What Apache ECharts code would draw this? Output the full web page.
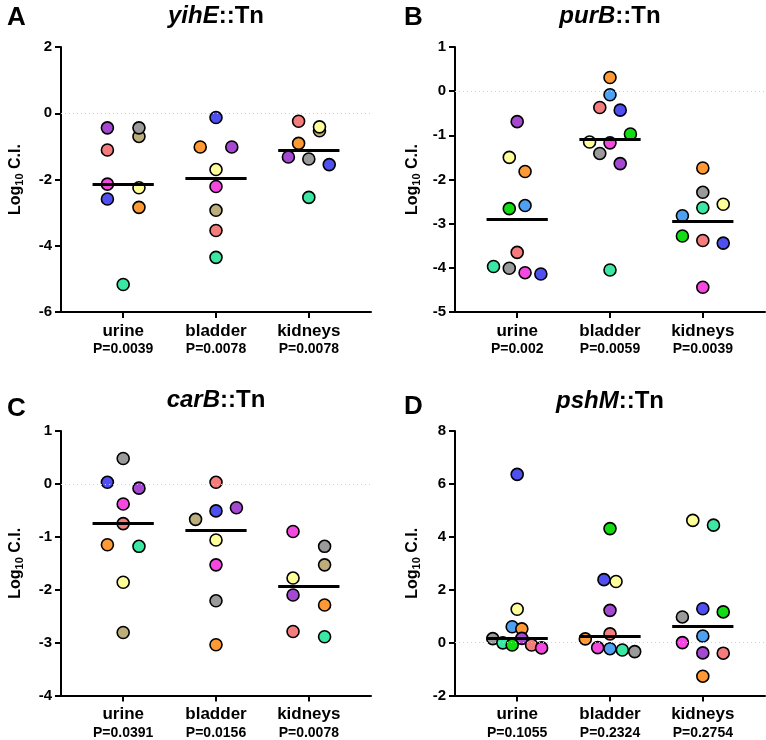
<!DOCTYPE html>
<html><head><meta charset="utf-8">
<script src="https://cdn.jsdelivr.net/npm/echarts@6/dist/echarts.min.js"></script>
<style>html,body{margin:0;padding:0;background:#fff}#c{width:766px;height:740px}</style>
</head><body><div id="c"></div>
<script>
// ---------- DATA ----------
const groups = ['urine', 'bladder', 'kidneys'];
const genes = ['yihE', 'purB', 'carB', 'pshM'];
const letters = ['A', 'B', 'C', 'D'];

// mouse ids: P purple, S salmon, M magenta, B blue, G grey, T tan, Y yellow, O orange, N mint, E green, L light blue
const yihE_ids = [['P','S','M','B','T','G','Y','O','N'], ['B','O','P','Y','M','T','S','N'], ['S','T','Y','O','P','G','B','N']];
const yihE_vals = [[-0.44,-1.11,-2.14,-2.59,-0.70,-0.44,-2.25,-2.84,-5.17], [-0.13,-1.02,-1.02,-1.70,-2.21,-2.93,-3.54,-4.35], [-0.24,-0.53,-0.41,-0.91,-1.32,-1.38,-1.55,-2.54]];
const yihE_jit = [[-0.17,-0.17,-0.17,-0.17,0.17,0.17,0.17,0.17,0], [0,-0.17,0.17,0,0,0,0,0], [-0.11,0.115,0.115,-0.11,-0.22,0,0.22,0]];
const yihE_med = [-2.14, -1.95, -1.11];
const yihE_p = ['0.0039', '0.0078', '0.0078'];

const purB_ids = [['P','Y','O','L','E','S','N','G','M','B'], ['O','L','S','B','E','Y','M','G','P','N'], ['O','G','Y','N','L','E','S','B','M']];
const purB_vals = [[-0.69,-1.50,-1.82,-2.59,-2.66,-3.65,-3.97,-4.01,-4.11,-4.14], [0.31,-0.08,-0.37,-0.43,-0.97,-1.15,-1.17,-1.41,-1.64,-4.05], [-1.74,-2.29,-2.56,-2.64,-2.82,-3.28,-3.38,-3.44,-4.44]];
const purB_jit = [[0,-0.085,0.085,0.085,-0.085,0,-0.255,-0.085,0.085,0.255], [0,0,-0.11,0.11,0.22,-0.22,0,-0.11,0.11,0], [0,0,0.22,0,-0.22,-0.22,0,0.22,0]];
const purB_med = [-2.91, -1.09, -2.95];
const purB_p = ['0.002', '0.0059', '0.0039'];

const carB_ids = [['G','B','P','M','S','O','N','Y','T'], ['S','P','B','T','Y','M','G','O'], ['M','G','T','Y','P','O','S','N']];
const carB_vals = [[0.48,0.03,-0.08,-0.38,-0.75,-1.15,-1.18,-1.86,-2.81], [0.03,-0.45,-0.51,-0.67,-1.06,-1.53,-2.21,-3.04], [-0.90,-1.18,-1.53,-1.78,-2.10,-2.29,-2.79,-2.89]];
const carB_jit = [[0,-0.17,0.17,0,0,-0.17,0.17,0,0], [0,0.22,0,-0.22,0,0,0,0], [-0.17,0.17,0.17,-0.17,-0.17,0.17,-0.17,0.17]];
const carB_med = [-0.75, -0.87, -1.94];
const carB_p = ['0.0391', '0.0156', '0.0078'];

const pshM_ids = [['B','Y','L','O','G','P','N','E','S','M'], ['E','B','Y','P','S','O','M','L','N','G'], ['Y','N','B','E','G','L','M','P','S','O']];
const pshM_vals = [[6.36,1.26,0.60,0.52,0.15,0.16,-0.01,-0.09,-0.09,-0.20], [4.31,2.38,2.31,1.22,0.33,0.14,-0.19,-0.23,-0.28,-0.34], [4.62,4.44,1.28,1.16,0.97,0.25,0.00,-0.39,-0.40,-1.27]];
const pshM_jit = [[0,0,-0.054,0.05,-0.263,0.05,-0.155,-0.054,0.155,0.263], [0,-0.065,0.065,0,0,-0.266,-0.133,0,0.133,0.266], [-0.108,0.115,0,0.22,-0.22,0,-0.22,0,0.22,0]];
const pshM_med = [0.15, 0.24, 0.60];
const pshM_p = ['0.1055', '0.2324', '0.2754'];

const yTicks = [[-6, 2, 2], [-5, 1, 1], [-4, 1, 1], [-2, 8, 2]]; // min, max, interval

// ---------- STYLE ----------
const palette = {
  P: '#a548d2', S: '#f47c7c', M: '#f548e0', B: '#4f50ef', G: '#9a9a9a', T: '#bcae7a',
  Y: '#ffff99', O: '#ff9933', N: '#3ae8a4', E: '#12dc12', L: '#4ea0f2'
};
const FONT = '"Liberation Sans", Arial, sans-serif';
const panels = [
  {ids: yihE_ids, vals: yihE_vals, jit: yihE_jit, med: yihE_med, p: yihE_p},
  {ids: purB_ids, vals: purB_vals, jit: purB_jit, med: purB_med, p: purB_p},
  {ids: carB_ids, vals: carB_vals, jit: carB_jit, med: carB_med, p: carB_p},
  {ids: pshM_ids, vals: pshM_vals, jit: pshM_jit, med: pshM_med, p: pshM_p}
];
const gridPos = [
  {left: 61, top: 47, width: 310, height: 265},
  {left: 455, top: 47, width: 310, height: 265},
  {left: 61, top: 431, width: 310, height: 265},
  {left: 455, top: 431, width: 310, height: 265}
];
const letterPos = [{left: 2, top: 0}, {left: 399, top: 0}, {left: 2, top: 391}, {left: 399, top: 389}];
const titleX = [211, 605, 211, 605];
const titleTop = [-1, -1, 383, 384];

const grid = [], xAxis = [], yAxis = [], series = [], title = [];
panels.forEach((pn, i) => {
  grid.push(gridPos[i]);
  title.push({text: letters[i], left: letterPos[i].left, top: letterPos[i].top,
    textStyle: {fontSize: 26, fontWeight: 'bold', color: '#000', fontFamily: FONT}});
  title.push({text: '{it|' + genes[i] + '}{n|::Tn}', left: titleX[i], top: titleTop[i], textAlign: 'center',
    textStyle: {rich: {
      it: {fontSize: 24, fontWeight: 'bold', fontStyle: 'italic', color: '#000', fontFamily: FONT},
      n: {fontSize: 24, fontWeight: 'bold', color: '#000', fontFamily: FONT}
    }}});
  xAxis.push({
    gridIndex: i, type: 'value', min: 0.33, max: 3.67,
    splitLine: {show: false},
    axisLine: {onZero: false, lineStyle: {color: '#000', width: 2}},
    axisTick: {customValues: [1, 2, 3], length: 6, lineStyle: {color: '#000', width: 2}},
    axisLabel: {
      customValues: [1, 2, 3], margin: 9,
      formatter: v => { const k = Math.round(v) - 1; return '{a|' + groups[k] + '}\n{b|P=' + pn.p[k] + '}'; },
      rich: {
        a: {fontSize: 17, fontWeight: 'bold', color: '#000', fontFamily: FONT, lineHeight: 20},
        b: {fontSize: 14, fontWeight: 'bold', color: '#000', fontFamily: FONT, lineHeight: 17}
      }
    }
  });
  const [mn, mx, iv] = yTicks[i];
  yAxis.push({
    gridIndex: i, type: 'value', min: mn, max: mx, interval: iv,
    splitLine: {show: false},
    axisLine: {show: true, onZero: false, lineStyle: {color: '#000', width: 2}},
    axisTick: {show: true, length: 6, lineStyle: {color: '#000', width: 2}},
    axisLabel: {fontSize: 15, fontWeight: 'bold', color: '#000', fontFamily: FONT, margin: 9},
    name: '{a|Log}{s|10}{a| C.I.}', nameLocation: 'middle', nameRotate: 90,
    nameGap: i % 2 === 0 ? 36 : 33,
    nameTextStyle: {rich: {
      a: {fontSize: 16, fontWeight: 'bold', color: '#000', fontFamily: FONT},
      s: {fontSize: 11, fontWeight: 'bold', color: '#000', fontFamily: FONT, padding: [7, 0, 0, 0]}
    }}
  });
  // zero reference line + medians
  const medLines = pn.med.map((m, k) => [{coord: [k + 1 - 0.33, m]}, {coord: [k + 1 + 0.33, m]}]);
  series.push({
    type: 'line', xAxisIndex: i, yAxisIndex: i, data: [], z: 1, silent: true,
    markLine: {symbol: ['none', 'none'], silent: true, animation: false, label: {show: false},
      lineStyle: {color: '#cfcfcf', width: 1, type: [1, 3]}, data: [{yAxis: 0}]}
  });
  series.push({
    type: 'line', xAxisIndex: i, yAxisIndex: i, data: [], z: 2, silent: true,
    markLine: {symbol: ['none', 'none'], silent: true, animation: false, label: {show: false},
      lineStyle: {color: '#000', width: 3, type: 'solid'}, data: medLines}
  });
  const pts = [];
  pn.vals.forEach((arr, k) => arr.forEach((v, j) => {
    pts.push({value: [k + 1 + pn.jit[k][j], v], itemStyle: {color: palette[pn.ids[k][j]]}});
  }));
  series.push({
    type: 'scatter', xAxisIndex: i, yAxisIndex: i, z: 3, symbolSize: 12,
    itemStyle: {borderColor: '#000', borderWidth: 1.6, opacity: 1},
    data: pts, animation: false
  });
});

const chart = echarts.init(document.getElementById('c'), null, {renderer: 'canvas'});
chart.setOption({backgroundColor: '#fff', animation: false, title, grid, xAxis, yAxis, series});
</script></body></html>
